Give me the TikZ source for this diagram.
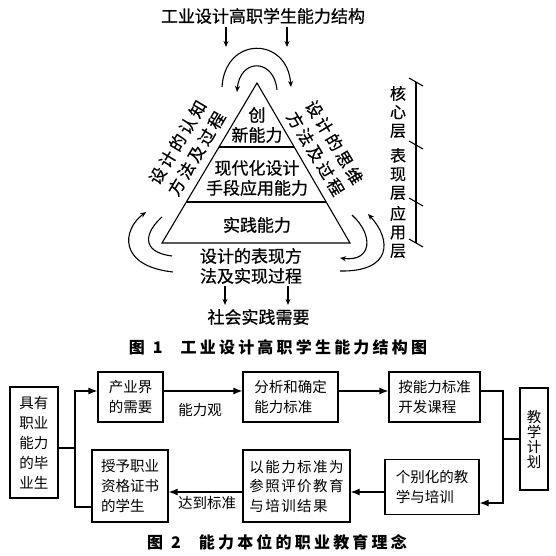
\documentclass[tikz,border=0pt]{standalone}
\usepackage{fontspec}
\setmainfont{Noto Sans CJK SC}
\newfontfamily\capfont[LetterSpace=20]{Noto Sans CJK SC}
\newfontfamily\widefont[LetterSpace=10]{Noto Sans CJK SC}
\newfontfamily\semifont[FakeBold=0.6]{Noto Sans CJK SC}
\newfontfamily\rotfont[FakeBold=0.6,LetterSpace=18]{Noto Sans CJK SC}
\usetikzlibrary{arrows.meta,calc}
\begin{document}
\begin{tikzpicture}[x=1pt,y=-1pt,
  f1/.style={font=\semifont\fontsize{17}{20}\selectfont, inner sep=0pt, align=center},
  frot/.style={font=\rotfont\fontsize{16.5}{22}\selectfont, inner sep=0pt, align=center},
  f3/.style={font=\semifont\fontsize{16}{18.5}\selectfont, inner sep=0pt, align=center},
  f2/.style={font=\fontsize{14.5}{20}\selectfont},
  ln1/.style={line width=1.1pt},
  ln2/.style={line width=1.2pt},
  arr1/.style={line width=1.1pt, -{Stealth[length=6pt,width=5pt]}},
  arr2/.style={line width=1.2pt, -{Latex[length=9pt,width=7pt]}},
  box/.style={draw, line width=1.2pt, f2, align=left, inner sep=3pt},
  captxt/.style={font=\capfont\fontsize{16}{18}\selectfont\bfseries, inner sep=0pt}]
\useasboundingbox (0,0) rectangle (555,556);
\fill[white] (0,0) rectangle (555,556);

% ---------- Figure 1 ----------
\node[f1] (title) at (263,16) {工业设计高职学生能力结构};
\coordinate (tA) at (226,47);
\coordinate (tB) at (287,47);
\draw[arr1] ([yshift=-3pt]title.south -| tA) -- (tA);
\draw[arr1] ([yshift=-3pt]title.south -| tB) -- (tB);

% top arcs
\draw[arr1] (222,87) .. controls (225,36) and (287,36) .. (291,87);
\draw[arr1] (277,90) .. controls (274,58) and (240,58) .. (237,92);

% pyramid
\coordinate (A) at (257,83);
\coordinate (B) at (162,243);
\coordinate (C) at (350,243);
\draw[ln1] (A) -- (B) -- (C) -- cycle;
\draw[ln1] ($(A)!0.4!(B)$) -- ($(A)!0.4!(C)$);
\draw[ln1] ($(A)!0.74375!(B)$) -- ($(A)!0.74375!(C)$);
\node[f1] (core) at (257,125) {创\\新能力};
\node[f1] (modern) at (257,178) {现代化设计\\手段应用能力};
\node[f1] (prac) at (257,225) {实践能力};

% side texts
\node[frot, rotate=59] (lcog) at (187,148) {设计的认知\\方法及过程};
\node[frot, rotate=-59] (rthk) at (325,148) {设计的思维\\方法及过程};

% side curved arrows
\draw[arr1] (173,272) .. controls (118,266) and (122,230) .. (146,212);
\draw[ln1] (172,256) .. controls (140,252) and (145,232) .. (162,217);
\draw[arr1] (352,215) .. controls (374,235) and (372,262) .. (340,258);
\draw[arr1] (340,271) .. controls (392,272) and (392,240) .. (368,214);

% bottom
\node[f1] (bt) at (251,266) {设计的表现方\\法及实现过程};
\node[f1, inner sep=4pt] (soc) at (258.5,317) {社会实践需要};
\draw[arr1] ([xshift=-26pt,yshift=-2pt]bt.south) -- ([xshift=-26pt]bt.south |- soc.north);
\draw[arr1] ([xshift=37pt,yshift=-2pt]bt.south) -- ([xshift=37pt]bt.south |- soc.north);

% scale
\draw[ln1] (416,82) -- (416,243);
\foreach \yy in {82,145,202,243} \draw[ln1] (409,{\yy-4}) -- (423,{\yy+4});
\node[f3] (lcore) at (398,112) {核\\心\\层};
\node[f3] (lshow) at (398,174) {表\\现\\层};
\node[f3] (lapp) at (398,232) {应\\用\\层};

\node[captxt] (cap1) at (278,347) {图\hspace{8pt}1\hspace{18pt}工业设计高职学生能力结构图};

% ---------- Figure 2 ----------
\node[box, align=center, minimum width=48pt, minimum height=111pt] (grad) at (34,442.5) {具有\\职业\\能力\\的毕\\业生};
\node[box, align=center, minimum width=65pt, minimum height=50pt] (need) at (130.5,397) {产业界\\的需要};
\node[box, minimum width=95pt, minimum height=50pt] (anal) at (290.5,397) {分析和确定\\能力标准};
\node[box, minimum width=91pt, minimum height=50pt] (dev) at (434.5,397) {按能力标准\\开发课程};
\node[box, align=center, minimum width=28pt, minimum height=102pt, font=\fontsize{14.5}{15}\selectfont] (plan) at (534,439) {教\\学\\计\\划};
\node[box, minimum width=94pt, minimum height=55pt] (indiv) at (432,487) {个别化的教\\学与培训};
\node[box, minimum width=107pt, minimum height=72pt, font=\widefont\fontsize{14.5}{19.5}\selectfont] (eval) at (296.5,486) {以能力标准为\\参照评价教育\\与培训结果};
\node[box, minimum width=76pt, minimum height=72pt] (award) at (130,486) {授予职业\\资格证书\\的学生};

\coordinate (j1) at (75,448);
\draw[ln2] ([yshift=-5.5pt]grad.east) -- (j1);
\draw[arr2] (j1) |- ([yshift=6pt]need.west);
\draw[ln2] (j1) |- ([yshift=-21pt]award.west);
\draw[arr2] ([yshift=6pt]need.east) -- ([yshift=6pt]anal.west);
\draw[arr2] ([yshift=6pt]anal.east) -- ([yshift=6pt]dev.west);
\coordinate (j2) at (503,439);
\draw[ln2] (plan.west) -- (j2);
\draw[arr2] ([yshift=6pt]dev.east) -| (j2) |- ([yshift=-16pt]indiv.east);
\draw[arr2] ([yshift=-5pt]indiv.west) -- ([yshift=-5pt]indiv.west -| eval.east);
\draw[arr2] ([yshift=-6pt]eval.west) -- ([yshift=-6pt]eval.west -| award.east);

\node[f2] (lab1) at (200,410) {能力观};
\node[f2] (lab2) at (207,503) {达到标准};

\node[captxt] (cap2) at (277,542) {图\hspace{8pt}2\hspace{18pt}能力本位的职业教育理念};
\end{tikzpicture}
\end{document}
